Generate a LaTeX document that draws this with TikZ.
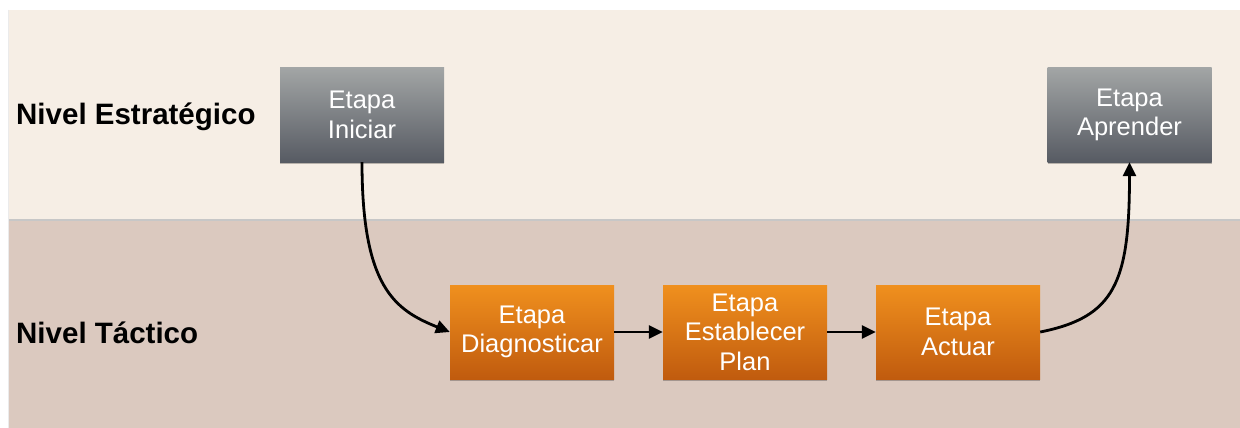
\documentclass[tikz,border=0pt]{standalone}
\usepackage{fontspec}
\setmainfont{Liberation Sans}
\usetikzlibrary{arrows.meta,shadows}
\definecolor{bandtop}{HTML}{F6EEE5}
\definecolor{bandlow}{HTML}{DBC9BF}
\definecolor{grayhi}{HTML}{A2A5A5}
\definecolor{graylo}{HTML}{575B63}
\definecolor{orahi}{HTML}{F0901E}
\definecolor{oralo}{HTML}{C05B0E}
\tikzset{
  stagebox/.style={rectangle, minimum width=164pt, minimum height=94pt,
    inner sep=0pt, align=center, text=white,
    font=\fontsize{25.5}{29.5}\selectfont,
    drop shadow={shadow xshift=0pt, shadow yshift=-2pt, opacity=0.25, fill=black}},
  strat/.style={stagebox, top color=grayhi, bottom color=graylo},
  tact/.style={stagebox, top color=orahi, bottom color=oralo},
  levellabel/.style={anchor=west, inner sep=0pt, font=\fontsize{29.5}{33}\selectfont\bfseries},
  flow/.style={line width=2.8pt, -{Triangle[length=14pt,width=13pt]}}
}
\begin{document}
\begin{tikzpicture}[x=1pt,y=-1pt]
  \useasboundingbox (0,0) rectangle (1240,428);
  \fill[white] (0,0) rectangle (1240,428);
  % level bands
  \fill[bandtop] (8,10) rectangle (1240,219);
  \fill[bandlow] (8,219) rectangle (1240,428);
  \draw[black!22, line width=2pt] (8,219.5) -- (1240,219.5);
  \draw[black!8, line width=1.2pt] (8.5,10) -- (8.5,428);
  % level labels
  \node[levellabel] (lstrat) at (16,117) {Nivel Estratégico};
  \node[levellabel] (ltact) at (16,333) {Nivel Táctico};
  % stages
  \node[strat] (ini) at (362,115) {Etapa\\Iniciar};
  \node[strat] (apr) at (1129.5,115) {Etapa\\Aprender};
  \node[tact] (dia) at (532,332) {Etapa\\Diagnosticar};
  \node[tact] (pla) at (745,332) {Etapa\\Establecer\\Plan};
  \node[tact] (act) at (958,332) {Etapa\\Actuar};
  % connectors
  \draw[flow] (ini.south) .. controls +(0,125) and +(-55,-22) .. (dia.west);
  \draw[flow] (dia.east) -- (pla.west);
  \draw[flow] (pla.east) -- (act.west);
  \draw[flow] (act.east) .. controls +(75,-15) and +(0,120) .. (apr.south);
\end{tikzpicture}
\end{document}
